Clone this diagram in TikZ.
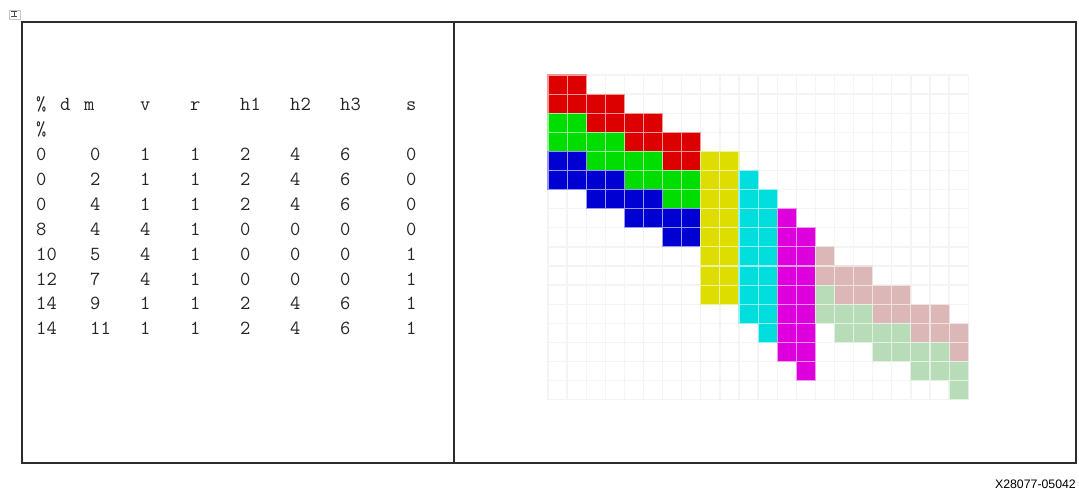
\documentclass[tikz,border=0pt]{standalone}
\usepackage{fontspec}
\setmainfont{Liberation Sans}
\definecolor{cR}{RGB}{221,0,0}
\definecolor{cG}{RGB}{0,221,0}
\definecolor{cB}{RGB}{0,0,210}
\definecolor{cY}{RGB}{221,221,0}
\definecolor{cC}{RGB}{0,221,221}
\definecolor{cM}{RGB}{221,0,221}
\definecolor{cP}{RGB}{220,183,183}
\definecolor{cL}{RGB}{183,220,183}
\definecolor{gridc}{RGB}{244,244,244}
\definecolor{framec}{RGB}{45,45,45}
\newcommand\crow[4]{\foreach \cc in {#3,...,#4}{\draw[cellst,fill=#1,draw=#1!40!white] ({548+\cc*19.1},{75+#2*19.1}) rectangle ++(19.1,19.1);}}
\newcommand\ccol[4]{\foreach \rr in {#3,...,#4}{\draw[cellst,fill=#1,draw=#1!40!white] ({548+#2*19.1},{75+\rr*19.1}) rectangle ++(19.1,19.1);}}
\newcommand\trow[9]{%
  \foreach \t [count=\i] in {#2,#3,#4,#5,#6,#7,#8,#9}{%
    \pgfmathsetmacro\xx{{36,90,140,190,240,290,340,406}[\i-1]}%
    \node[tbl] (r#1c\i) at (\xx,{111+24.86*#1}) {\t};
  }}
\begin{document}
\begin{tikzpicture}[x=1pt,y=-1pt,
  tbl/.style={font=\ttfamily\fontsize{20}{24}\selectfont,anchor=base west,inner sep=0pt,text=black!85},
  cellst/.style={line width=1.1pt},
  gridst/.style={draw=gridc,line width=1.3pt},
  framest/.style={draw=framec,line width=1.8pt}]
\useasboundingbox (0,0) rectangle (1079,489);
% tiny anchor mark
\draw[gray!45,line width=0.6pt] (9,10) rectangle (20,19);
\draw[black!70,line width=1pt] (11,12) -- (17,12) (14,12) -- (14,17) (11,17) -- (17,17);
% frame
\draw[framest] (22,22) rectangle (1076,463);
\draw[framest] (454,22) -- (454,463);
% table
\node[tbl] (h0) at (36,111) {\%};
\node[tbl] (h0d) at (60,111) {d};
\node[tbl] (h1) at (84,111) {m};
\node[tbl] (h2) at (140,111) {v};
\node[tbl] (h3) at (190,111) {r};
\node[tbl] (h4) at (240,111) {h1};
\node[tbl] (h5) at (290,111) {h2};
\node[tbl] (h6) at (340,111) {h3};
\node[tbl] (h7) at (406,111) {s};
\node[tbl] (pc) at (36,{111+24.86}) {\%};
\trow{2}{0}{0}{1}{1}{2}{4}{6}{0}
\trow{3}{0}{2}{1}{1}{2}{4}{6}{0}
\trow{4}{0}{4}{1}{1}{2}{4}{6}{0}
\trow{5}{8}{4}{4}{1}{0}{0}{0}{0}
\trow{6}{10}{5}{4}{1}{0}{0}{0}{1}
\trow{7}{12}{7}{4}{1}{0}{0}{0}{1}
\trow{8}{14}{9}{1}{1}{2}{4}{6}{1}
\trow{9}{14}{11}{1}{1}{2}{4}{6}{1}
% faint grid
\foreach \k in {0,...,22}{\draw[gridst] ({548+\k*19.1},75) -- ({548+\k*19.1},{75+17*19.1});}
\foreach \k in {0,...,17}{\draw[gridst] (548,{75+\k*19.1}) -- ({548+22*19.1},{75+\k*19.1});}
% red
\crow{cR}{0}{0}{1}\crow{cR}{1}{0}{3}\crow{cR}{2}{2}{5}\crow{cR}{3}{4}{7}\crow{cR}{4}{6}{7}
% green
\crow{cG}{2}{0}{1}\crow{cG}{3}{0}{3}\crow{cG}{4}{2}{5}\crow{cG}{5}{4}{7}\crow{cG}{6}{6}{7}
% blue
\crow{cB}{4}{0}{1}\crow{cB}{5}{0}{3}\crow{cB}{6}{2}{5}\crow{cB}{7}{4}{7}\crow{cB}{8}{6}{7}
% yellow, cyan, magenta
\ccol{cY}{8}{4}{11}\ccol{cY}{9}{4}{11}
\ccol{cC}{10}{5}{12}\ccol{cC}{11}{6}{13}
\ccol{cM}{12}{7}{14}\ccol{cM}{13}{8}{15}
% pink
\crow{cP}{9}{14}{14}\crow{cP}{10}{14}{16}\crow{cP}{11}{15}{18}\crow{cP}{12}{17}{20}\crow{cP}{13}{19}{21}\crow{cP}{14}{21}{21}
% light green
\crow{cL}{11}{14}{14}\crow{cL}{12}{14}{16}\crow{cL}{13}{15}{18}\crow{cL}{14}{17}{20}\crow{cL}{15}{19}{21}\crow{cL}{16}{21}{21}
% figure id
\node[font=\fontsize{12.3}{14}\selectfont,anchor=base east,inner sep=0pt] (fid) at (1076,488) {X28077-05042};
\end{tikzpicture}
\end{document}
